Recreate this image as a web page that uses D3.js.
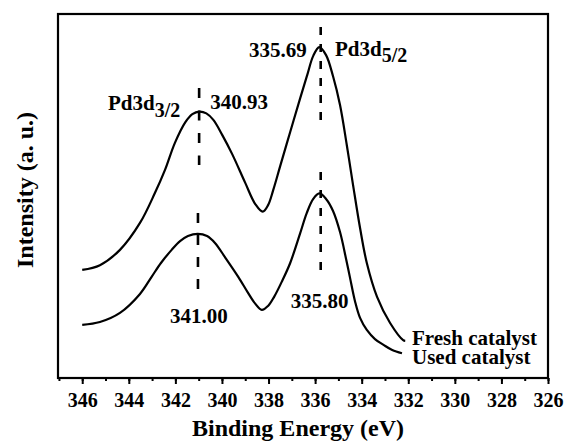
<!DOCTYPE html>
<html>
<head>
<meta charset="utf-8">
<script src="https://cdn.jsdelivr.net/npm/d3@7"></script>
</head>
<body style="margin:0; background:#fff">
<div id="chart"></div>
<script>
// spectra: [binding energy (eV), intensity (a.u.)]
var freshCatalyst = [
  [346.00, 297], [345.24, 310], [344.38, 352], [343.52, 426], [342.88, 508],
  [342.45, 571], [342.02, 646], [341.57, 703], [341.27, 725], [340.97, 732],
  [340.67, 727], [340.37, 709], [339.99, 668], [339.56, 615], [339.00, 536],
  [338.57, 478], [338.25, 457], [338.02, 475], [337.80, 516], [337.50, 582],
  [337.07, 676], [336.64, 769], [336.34, 832], [336.08, 885], [335.82, 909],
  [335.53, 887], [335.23, 829], [334.93, 750], [334.64, 640], [334.37, 530],
  [334.07, 412], [333.78, 316], [333.34, 223], [332.78, 151], [332.22, 104],
  [332.13, 102]
];
var usedCatalyst = [
  [346.00, 146], [345.24, 154], [344.38, 179], [343.52, 231], [343.02, 278],
  [342.62, 316], [342.16, 352], [341.80, 376], [341.46, 390], [341.04, 396],
  [340.64, 390], [340.30, 371], [339.87, 332], [339.30, 278], [338.88, 234],
  [338.58, 205], [338.29, 187], [338.02, 198], [337.76, 223], [337.42, 266],
  [337.07, 316], [336.64, 398], [336.36, 453], [336.08, 492], [335.82, 507],
  [335.53, 492], [335.23, 459], [334.93, 401], [334.67, 327], [334.50, 275],
  [334.28, 209], [334.07, 165], [333.78, 132], [333.43, 107], [333.06, 91],
  [332.69, 77], [332.27, 68]
];

// peak marker lines: [position (eV), from intensity, to intensity]
var freshPeaks = [[340.98, 585, 797], [335.76, 695, 964]];
var usedPeaks = [[341.03, 239, 453], [335.76, 275, 566]];
var freshPeakLabels = ["340.93", "335.69"];
var usedPeakLabels = ["341.00", "335.80"];
var seriesNames = ["Fresh catalyst", "Used catalyst"];

var xTicks = d3.range(346, 325, -2);
var xMinorTicks = d3.range(347, 325, -1);

var width = 565, height = 444;
var margin = {top: 14, right: 17, bottom: 66, left: 58};
var serif = "Liberation Serif";

var svg = d3.select("#chart").append("svg")
    .attr("width", width)
    .attr("height", height);

var x = d3.scaleLinear().domain([347.04, 326]).range([margin.left, width - margin.right]);
var y = d3.scaleLinear().domain([0, 1000]).range([height - margin.bottom, margin.top]);

var line = d3.line()
    .x(function(d) { return x(d[0]); })
    .y(function(d) { return y(d[1]); })
    .curve(d3.curveCatmullRom.alpha(0.5));

//curves
svg.selectAll("path.spectrum")
    .data([freshCatalyst, usedCatalyst])
    .enter()
    .append("path")
        .attr("class", "spectrum")
        .attr("d", line)
        .attr("fill", "none")
        .attr("stroke", "#000")
        .attr("stroke-width", 2.2);

//dashed peak lines
var dashes = ["10,12.5", "8,9", "10,12", "8,10"];
svg.selectAll("line.peak")
    .data(freshPeaks.concat(usedPeaks))
    .enter()
    .append("line")
        .attr("class", "peak")
        .attr("x1", function(d) { return x(d[0]); })
        .attr("x2", function(d) { return x(d[0]); })
        .attr("y1", function(d) { return y(d[2]); })
        .attr("y2", function(d) { return y(d[1]); })
        .attr("stroke", "#000")
        .attr("stroke-width", 2.6)
        .attr("stroke-dasharray", function(d, i) { return dashes[i]; });

//frame
svg.append("rect")
    .attr("x", margin.left)
    .attr("y", margin.top)
    .attr("width", width - margin.left - margin.right)
    .attr("height", height - margin.top - margin.bottom)
    .attr("fill", "none")
    .attr("stroke", "#000")
    .attr("stroke-width", 2.2);

//bottom axis
var axisY = height - margin.bottom;
svg.append("g")
    .attr("transform", "translate(0," + axisY + ")")
    .call(d3.axisBottom(x).tickValues(xMinorTicks).tickSize(3).tickFormat(""))
    .call(function(g) { g.select(".domain").remove(); })
    .selectAll("line").attr("stroke-width", 2);

var xAxis = svg.append("g")
    .attr("transform", "translate(0," + axisY + ")")
    .call(d3.axisBottom(x).tickValues(xTicks).tickSize(6).tickPadding(9).tickFormat(d3.format("d")));
xAxis.select(".domain").remove();
xAxis.attr("font-family", serif).attr("font-size", 20).attr("font-weight", "bold");
xAxis.selectAll("line").attr("stroke-width", 2);
xAxis.selectAll("text").attr("fill", "#000");

function addText(px, py, size, txt) {
    return svg.append("text")
        .attr("x", px)
        .attr("y", py)
        .attr("font-family", serif)
        .attr("font-weight", "bold")
        .attr("font-size", size)
        .attr("fill", "#000")
        .text(txt);
}

//axis titles
addText(298, 436, 24, "Binding Energy (eV)").attr("text-anchor", "middle");
addText(0, 0, 24, "Intensity (a. u.)")
    .attr("transform", "translate(33,190) rotate(-90)")
    .attr("text-anchor", "middle");

//peak annotations
function subLabel(px, py, main, sub, dy) {
    var t = addText(px, py, 21, main);
    t.append("tspan").attr("dy", dy).attr("font-size", 20).text(sub);
    return t;
}
subLabel(108, 110, "Pd3d", "3/2", 7);
subLabel(335, 56, "Pd3d", "5/2", 6);

addText(x(freshPeaks[0][0]) + 11, 109, 21, freshPeakLabels[0]);
addText(x(freshPeaks[1][0]) - 14, 57, 21, freshPeakLabels[1]).attr("text-anchor", "end");
addText(x(usedPeaks[0][0]) + 1, 323, 21, usedPeakLabels[0]).attr("text-anchor", "middle");
addText(x(usedPeaks[1][0]) - 1, 308, 21, usedPeakLabels[1]).attr("text-anchor", "middle");

//series names at curve ends
seriesNames.forEach(function(name, i) {
    addText(412, i === 0 ? 345 : 364, 21, name);
});
</script>
</body>
</html>
